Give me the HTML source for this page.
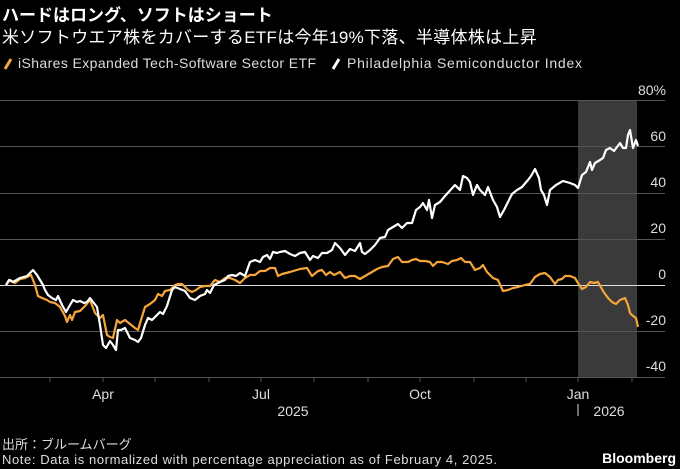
<!DOCTYPE html><html><head><meta charset="utf-8"><style>
body{margin:0;background:#000;width:680px;height:469px;overflow:hidden;font-family:"Liberation Sans","Noto Sans CJK JP",sans-serif;color:#fff}
.t{position:absolute;left:2px;white-space:nowrap}
</style></head><body>
<div class="t" style="top:1px;font-size:17px;font-weight:bold">ハードはロング、ソフトはショート</div>
<div class="t" style="top:23px;font-size:17px;letter-spacing:0.3px">米ソフトウエア株をカバーするETFは今年19%下落、半導体株は上昇</div>
<svg width="680" height="469" style="position:absolute;left:0;top:0" font-family="Liberation Sans, sans-serif">
<g font-size="14" fill="#ddd">
<path d="M5 69 L11 59" stroke="#f5a53a" stroke-width="3"/>
<text x="18" y="68" textLength="298" lengthAdjust="spacing">iShares Expanded Tech-Software Sector ETF</text>
<path d="M333 69 L339 59" stroke="#fff" stroke-width="3"/>
<text x="347" y="68" textLength="235" lengthAdjust="spacing">Philadelphia Semiconductor Index</text>
</g>
<rect x="578" y="100" width="59" height="277" fill="#3a3a3a"/>
<g stroke="#555" stroke-width="1">
<path d="M0 100.5H665M0 146.5H665M0 193.5H665M0 239.5H665M0 331.5H665M0 377.5H665"/>
<path d="M50 377v5M103 377v5M155 377v5M209 377v5M261 377v5M314 377v5M368 377v5M420 377v5M474 377v5M526 377v5M578 377v5M632 377v5"/>
</g>
<path d="M0 285.5H665" stroke="#ddd" stroke-width="1"/>
<g font-size="14" fill="#ddd" text-anchor="end">
<text x="666" y="95">80%</text><text x="666" y="141">60</text><text x="666" y="187">40</text><text x="666" y="233">20</text><text x="666" y="279">0</text><text x="666" y="325">-20</text><text x="666" y="371">-40</text>
</g>
<g font-size="14" fill="#ddd" text-anchor="middle">
<text x="103" y="399">Apr</text><text x="261" y="399">Jul</text><text x="420" y="399">Oct</text><text x="578" y="399">Jan</text>
<text x="293" y="416">2025</text><text x="609" y="416">2026</text>
</g>
<path d="M578 404v12" stroke="#ddd"/>
<polyline fill="none" stroke="#f5a53a" stroke-width="2.2" stroke-linejoin="round" points="6,285 10,280 15,283 20,279 25,278 31,275 35,285 38,296 42,298 47,300 50,302 55,303 60,307 65,316 67,322 70,315 72,320 75,312 80,311 85,306 90,300 95,313 100,318 103,315 107,335 110,337 113,338 117,320 120,323 125,320 130,324 135,328 138,330 141,320 145,307 150,304 155,300 158,294 162,296 165,291 170,290 175,285 178,284 182,284 188,290 192,292 196,290 200,287 205,286 210,286 215,280 220,282 225,278 230,278 235,280 240,283 245,278 250,275 255,275 260,271 265,271 270,268 275,268 278,276 282,274 290,272 300,269 307,268 312,276 318,271 322,270 326,275 330,272 334,275 340,272 345,278 350,276 355,276 360,279 365,276 372,272 377,269 382,267 388,266 393,259 398,257 402,262 408,262 412,260 416,259 420,261 425,261 430,262 433,266 437,262 442,262 448,264 452,261 457,260 461,258 465,262 470,262 475,270 480,268 483,265 487,272 493,278 498,280 503,291 508,290 513,288 518,287 525,285 530,284 535,277 540,274 545,273 550,277 555,284 558,280 562,279 565,276 570,276 575,278 578,283 582,289 586,287 590,282 594,283 598,282 603,291 608,298 612,302 616,304 620,300 625,298 628,305 630,313 633,316 636,318 638,327"/>
<polyline fill="none" stroke="#fff" stroke-width="2.2" stroke-linejoin="round" points="6,285 9,280 13,282 20,278 27,276 33,270 37,275 43,285 45,290 48,295 52,298 56,300 58,296 62,305 66,312 70,305 73,300 77,302 80,301 84,303 87,302 90,298 93,302 97,307 100,325 103,345 106,348 110,341 113,345 116,350 118,330 121,330 125,328 130,338 135,340 138,342 141,338 145,325 148,318 152,320 156,316 160,312 163,314 167,306 172,290 175,287 180,289 185,291 190,298 195,300 200,296 205,294 207,290 210,293 214,285 220,282 225,280 228,276 232,275 236,276 240,273 245,276 250,262 255,260 260,262 263,257 267,255 270,259 273,252 277,253 280,252 285,251 290,254 295,256 300,253 305,252 310,260 313,256 318,258 322,253 327,253 332,250 335,243 340,248 345,255 350,249 355,251 360,243 362,252 365,254 370,250 375,245 380,238 385,237 388,230 393,227 398,224 402,228 407,223 412,223 416,210 420,207 423,203 427,210 429,200 432,218 435,205 440,202 445,196 455,185 460,190 463,176 467,178 470,182 473,195 477,185 480,190 485,195 488,187 493,200 497,207 500,217 504,210 508,202 512,194 517,190 522,187 528,180 531,176 535,169 539,178 541,190 544,195 547,205 550,190 556,185 563,181 570,183 575,185 578,188 582,175 586,172 590,162 592,170 595,163 600,160 603,158 606,150 610,148 614,151 617,147 620,143 623,148 626,148 628,135 630,130 633,148 636,140 638,146"/>
<text x="2" y="464" font-size="13" fill="#ddd" textLength="495" lengthAdjust="spacing">Note: Data is normalized with percentage appreciation as of February 4, 2025.</text>
</svg>
<div class="t" style="top:434px;font-size:13px;color:#ddd">出所：ブルームバーグ</div>
<div style="position:absolute;right:4px;top:450px;font-size:14px;font-weight:bold">Bloomberg</div>
</body></html>
